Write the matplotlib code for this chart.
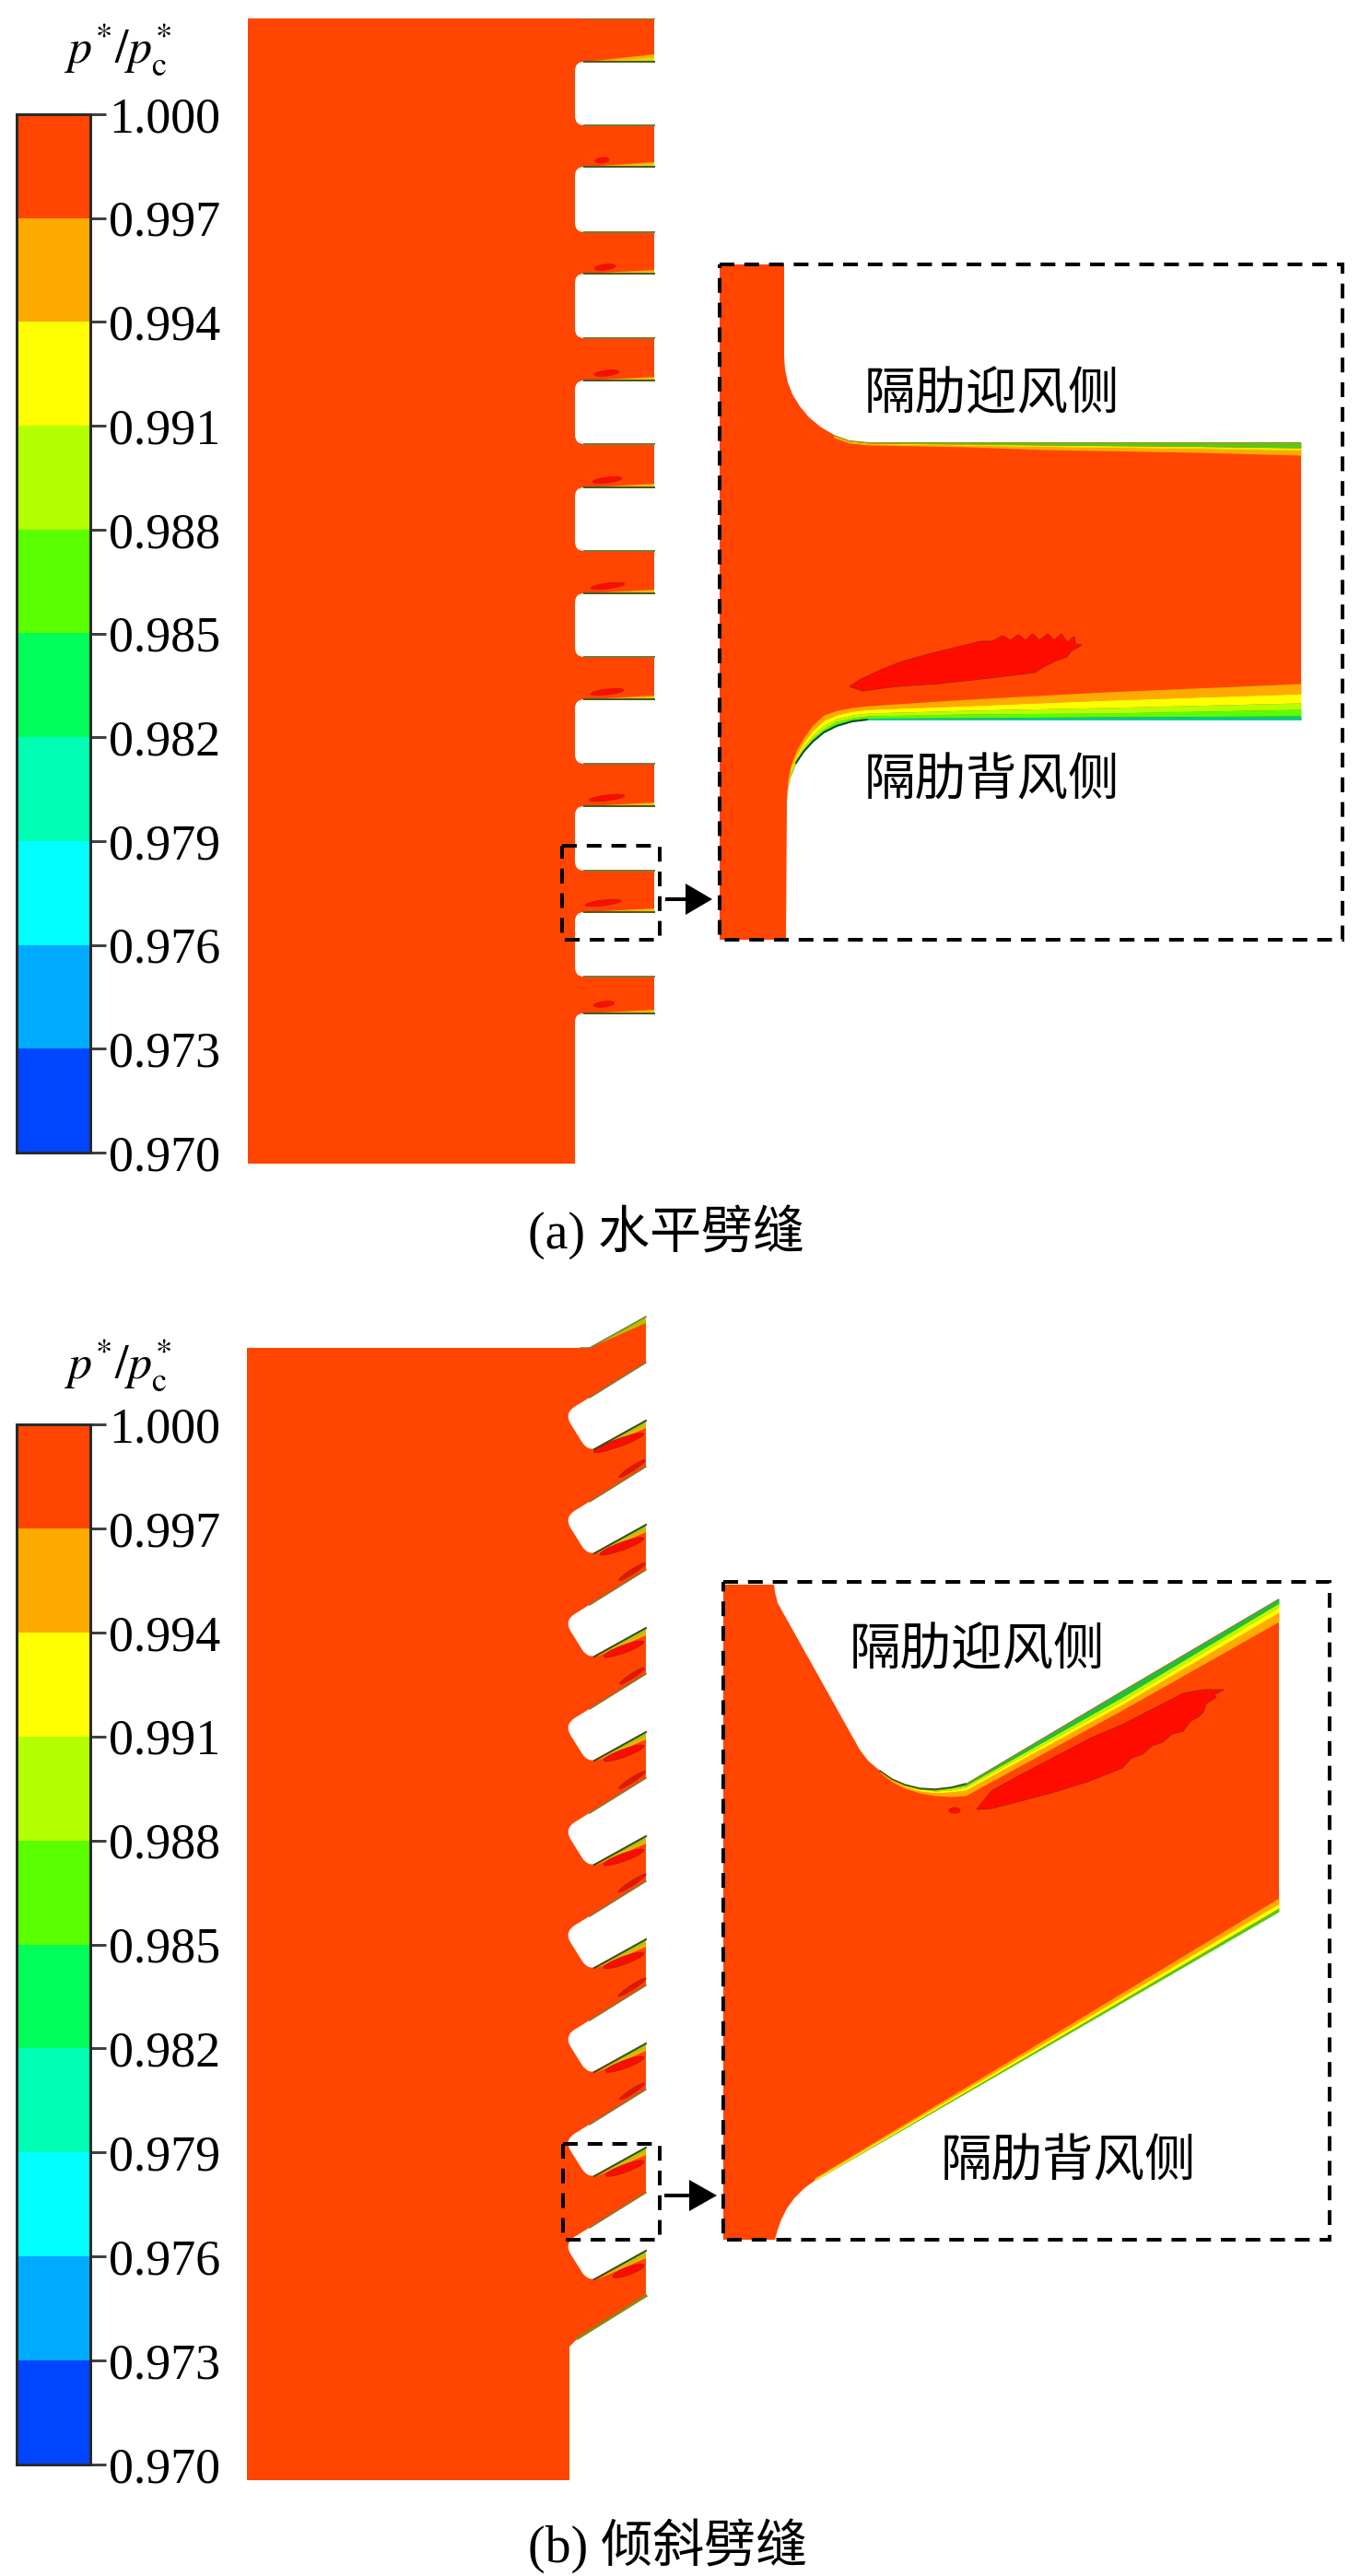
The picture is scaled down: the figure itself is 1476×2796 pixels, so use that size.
import matplotlib
matplotlib.use("Agg")
import matplotlib.pyplot as plt
from matplotlib.patches import Ellipse, PathPatch, Polygon, Rectangle
from matplotlib.path import Path

W, H = 1476, 2796
DPI = 100
PT = 72 / DPI  # one pixel in points

plt.rcParams["mathtext.fontset"] = "stix"

ORANGE_RED = "#FF4500"
BLOB_RED = "#FF0C00"
BLOB_EDGE = "#C41A08"
WALL_DARK = "#7A7A38"

# colour bar
LEVELS = [1.000, 0.997, 0.994, 0.991, 0.988, 0.985, 0.982, 0.979, 0.976, 0.973, 0.970]
LEVEL_LABELS = ["1.000", "0.997", "0.994", "0.991", "0.988", "0.985",
                "0.982", "0.979", "0.976", "0.973", "0.970"]
BAND_COLORS = ["#FF4500", "#FFAA00", "#FFFF00", "#B4FF00", "#5AFF00",
               "#00FF5A", "#00FFB4", "#00FFFF", "#00AAFF", "#0046FF"]

# (a) horizontal slots, pixel rows
A_SLOT_TOP = [67, 181, 297, 413, 529, 644, 759, 875, 990]
A_SLOT_BOTTOM = [136, 252, 367, 482, 598, 713, 829, 945, 1060]
A_FIN_WEDGE = [8, 5, 4, 4, 4, 4, 4, 4, 4, 4]
A_LAST_FIN_BOTTOM = 1100
A_BLOB_X0 = [646, 645, 645, 643, 641, 641, 639, 635, 644]
A_BLOB_X1 = [661, 668, 672, 675, 678, 677, 678, 674, 667]
A_BLOB_Y = [174, 290, 405, 521, 636, 751, 866, 980, 1090]

# (a) enlarged view
A_INSET_TOP_X = [851, 851, 852, 855, 860, 868, 878, 890, 905, 922, 943, 1412]
A_INSET_TOP_Y = [287, 388, 401, 415, 428, 441, 453, 463, 472, 478, 480, 480]
A_LEE_X = [854, 855, 858, 864, 872, 882, 894, 908, 925, 942, 1050, 1200, 1412]
A_LEE_WALL = [869, 856, 843, 828, 816, 805, 795, 788, 783, 781, 781, 781, 781]
A_LEE_GREEN = [869, 855, 842, 827, 815, 803, 793, 786, 781, 779.5, 779, 778, 777]
A_LEE_LIME = [868, 854, 841, 826, 813, 801, 791, 783, 779, 777, 775, 774, 770]
A_LEE_YELLOW = [867, 852, 838, 823, 810, 798, 787, 780, 776, 774, 771, 768, 763]
A_LEE_ORANGE = [866, 850, 835, 820, 806, 793, 782, 776, 772, 770, 766, 760, 753]
A_LEE_RED = [865, 846, 831, 815, 801, 787, 776, 771, 768, 766, 759, 751, 742]
A_LEE_BANDS = [
    (A_LEE_RED, A_LEE_ORANGE, "#FFAA00"),
    (A_LEE_ORANGE, A_LEE_YELLOW, "#FFFF00"),
    (A_LEE_YELLOW, A_LEE_LIME, "#B4FF00"),
    (A_LEE_LIME, A_LEE_GREEN, "#5AFF00"),
    (A_LEE_GREEN, A_LEE_WALL, "#00D070"),
]
A_WIND_X = [905, 922, 943, 1050, 1134, 1300, 1412]
A_WIND_WALL = [472, 478, 480, 480, 480, 480, 480]
A_WIND_GREEN = [473, 479, 481, 482, 483, 484.5, 486]
A_WIND_YELLOW = [474, 480, 482, 483.5, 485, 487, 489]
A_WIND_RED = [475, 481, 483, 485, 488, 491, 494]
A_WIND_BANDS = [
    (A_WIND_RED, A_WIND_YELLOW, "#FFAA00"),
    (A_WIND_YELLOW, A_WIND_GREEN, "#E8E800"),
    (A_WIND_GREEN, A_WIND_WALL, "#58C818"),
]
A_BIG_BLOB = [(922, 745), (933, 738), (956, 727), (979, 718), (1008, 710), (1036, 703), (1065, 696),
              (1077, 696), (1088, 690), (1097, 695), (1105, 689), (1113, 695), (1121, 688), (1128, 695),
              (1137, 688), (1144, 695), (1152, 688), (1158, 697), (1166, 691), (1167, 699), (1174, 700),
              (1162, 707), (1158, 713), (1146, 717), (1134, 723), (1123, 730), (1065, 737), (1019, 742),
              (973, 745), (936, 750)]

# (b) inclined slots
B_SLOT_TOP = [1479, 1592, 1704, 1817, 1930, 2042, 2155, 2268, 2380]
B_LOWER_BLOB_LEN = [57, 50, 46, 46, 46, 46, 44, 44, 36]
B_UPPER_BLOB_LEN = [0, 34, 34, 32, 34, 36, 36, 32, 0]

# (b) enlarged view
B_INSET_OUTLINE = [(785, 1720), (840, 1720), (841, 1728), (844, 1740), (933, 1899), (942, 1911),
                   (955, 1922), (968, 1931), (982, 1937), (998, 1941), (1015, 1942), (1032, 1940),
                   (1048, 1936), (1218, 1835), (1388, 1735), (1388, 2075), (884, 2367), (873, 2375),
                   (862, 2386), (854, 2397), (848, 2409), (844, 2420), (841, 2431), (785, 2431)]
B_WIND_X = [955, 968, 982, 998, 1015, 1032, 1048, 1218, 1388]
B_WIND_WALL = [1922, 1931, 1937, 1941, 1942, 1940, 1936, 1835, 1735]
B_WIND_GREEN = [1922, 1931, 1938, 1942, 1943, 1941, 1938, 1842, 1740]
B_WIND_LIME = [1923, 1932, 1938, 1942, 1944, 1943, 1940, 1846, 1744]
B_WIND_YELLOW = [1923, 1932, 1939, 1944, 1946, 1945, 1943, 1850, 1750]
B_WIND_RED = [1924, 1934, 1941, 1946, 1949, 1950, 1949, 1856, 1760]
B_WIND_BANDS = [
    (B_WIND_RED, B_WIND_YELLOW, "#FFAA00"),
    (B_WIND_YELLOW, B_WIND_LIME, "#FFFF00"),
    (B_WIND_LIME, B_WIND_GREEN, "#B4FF00"),
    (B_WIND_GREEN, B_WIND_WALL, "#1FBF3F"),
]
B_LEE_X = [884, 1100, 1388]
B_LEE_BANDS = [
    ([2364, 2234, 2060], [2365, 2237, 2066], "#FFAA00"),
    ([2365, 2237, 2066], [2366.5, 2240, 2071], "#FFFF00"),
    ([2366.5, 2240, 2071], [2367, 2242, 2075], "#58C818"),
]
B_BIG_BLOB = [(1060, 1964), (1076, 1944), (1103, 1929), (1141, 1909), (1185, 1886), (1218, 1872),
              (1257, 1852), (1284, 1838), (1306, 1834), (1328, 1834), (1317, 1840), (1320, 1842),
              (1309, 1849), (1306, 1858), (1300, 1864), (1292, 1868), (1284, 1879), (1272, 1882),
              (1262, 1891), (1250, 1895), (1240, 1904), (1228, 1908), (1218, 1919), (1180, 1934),
              (1141, 1946), (1103, 1956), (1076, 1963)]


def round_path(points, radii):
    """Closed path with the corners rounded by the given pixel radius."""
    verts, codes = [], []
    n = len(points)
    for i in range(n):
        px, py = points[i]
        r = radii[i]
        if r == 0:
            verts.append((px, py))
            codes.append(Path.LINETO)
            continue
        ax_, ay_ = points[i - 1]
        bx, by = points[(i + 1) % n]
        la = ((ax_ - px) ** 2 + (ay_ - py) ** 2) ** 0.5
        lb = ((bx - px) ** 2 + (by - py) ** 2) ** 0.5
        verts.append((px + (ax_ - px) * r / la, py + (ay_ - py) * r / la))
        codes.append(Path.LINETO)
        verts.append((px, py))
        codes.append(Path.CURVE3)
        verts.append((px + (bx - px) * r / lb, py + (by - py) * r / lb))
        codes.append(Path.CURVE3)
    codes[0] = Path.MOVETO
    verts.append(verts[0])
    codes.append(Path.CLOSEPOLY)
    return Path(verts, codes)


def colorbar(fig, top, bottom):
    ax = fig.add_axes([18 / W, 1 - bottom / H, 79.5 / W, (bottom - top) / H])
    for i, color in enumerate(BAND_COLORS):
        ax.bar(0, LEVELS[i] - LEVELS[i + 1], bottom=LEVELS[i + 1], width=1, color=color, linewidth=0)
    ax.set_xlim(-0.5, 0.5)
    ax.set_ylim(LEVELS[-1], LEVELS[0])
    ax.set_xticks([])
    ax.yaxis.tick_right()
    ax.set_yticks(LEVELS)
    ax.set_yticklabels(LEVEL_LABELS, fontsize=54 * PT, family="Liberation Serif")
    ax.tick_params(axis="y", length=17 * PT, width=3 * PT, color="#404040", pad=4 * PT)
    for s in ax.spines.values():
        s.set_linewidth(3 * PT)
        s.set_color("#2A2A2A")


def dashed_box(ax, x0, y0, x1, y1):
    ax.add_patch(Rectangle((x0, y0), x1 - x0, y1 - y0, fill=False, edgecolor="black",
                           linewidth=4 * PT, linestyle=(0, (4, 2.7)), zorder=8))


def arrow(ax, x0, x1, x2, y):
    ax.plot([x0, x1], [y, y], color="black", lw=4 * PT, zorder=8, solid_capstyle="butt")
    ax.add_patch(Polygon([(x1, y - 17), (x2, y), (x1, y + 17)], color="black", lw=0, zorder=8))


def header(ax, y):
    ax.text(128, y, r"$p^{*}/p_{\mathrm{c}}^{*}$", fontsize=52 * PT, ha="center", va="baseline")


def cjk_label(ax, x, y, s):
    ax.text(x, y, s, fontsize=55.5 * PT, ha="center", va="center",
            family=["Noto Sans CJK SC", "DejaVu Sans"], zorder=9)


def caption(ax, x, y, s):
    ax.text(x, y, s, fontsize=56 * PT, ha="left", va="center",
            family=["Liberation Serif", "Noto Sans CJK SC"], zorder=9)


fig = plt.figure(figsize=(W / DPI, H / DPI), dpi=DPI, facecolor="white")
ax = fig.add_axes([0, 0, 1, 1])
ax.set_xlim(0, W)
ax.set_ylim(H, 0)
ax.axis("off")

# ---- (a) main blade
body_a = [(269, 20), (710, 20), (710, A_LAST_FIN_BOTTOM), (624, A_LAST_FIN_BOTTOM), (624, 1263), (269, 1263)]
ax.add_patch(PathPatch(round_path(body_a, [0, 0, 0, 9, 0, 0]), facecolor=ORANGE_RED, edgecolor="none"))

for i, t in enumerate(A_FIN_WEDGE):
    y = A_SLOT_TOP[i] if i < len(A_SLOT_TOP) else A_LAST_FIN_BOTTOM
    ax.add_patch(Polygon([(636, y), (710, y), (710, y - t)], color="#FFAA00", lw=0))
    ax.add_patch(Polygon([(655, y), (710, y), (710, y - t * 0.6)], color="#D8E000", lw=0))
    ax.plot([634, 710], [y, y], color="#4A5A20", lw=2 * PT)

for y0, y1 in zip(A_SLOT_TOP, A_SLOT_BOTTOM):
    slot = [(716, y0), (624, y0), (624, y1), (716, y1)]
    ax.add_patch(PathPatch(round_path(slot, [0, 10, 10, 0]), facecolor="white", edgecolor="none"))
    ax.plot([634, 710], [y1, y1], color=WALL_DARK, lw=2 * PT)
ax.plot([630, 710], [20, 20], color=WALL_DARK, lw=1 * PT)

for x0, x1, y in zip(A_BLOB_X0, A_BLOB_X1, A_BLOB_Y):
    ax.add_patch(Ellipse(((x0 + x1) / 2, y), x1 - x0, 6, angle=-7, facecolor=BLOB_RED,
                         edgecolor=BLOB_EDGE, lw=0.5))

# ---- (a) enlarged view
inset_a = list(zip(A_INSET_TOP_X, A_INSET_TOP_Y)) + list(zip(A_LEE_X[::-1], A_LEE_WALL[::-1])) + [(853, 1020), (781, 1020), (781, 287)]
ax.add_patch(Polygon(inset_a, closed=True, facecolor=ORANGE_RED, edgecolor="none"))
for y1, y2, color in A_LEE_BANDS:
    ax.fill_between(A_LEE_X, y1, y2, color=color, lw=0)
ax.plot(A_LEE_X[3:10], A_LEE_WALL[3:10], color="#0A4A30", lw=2 * PT)
ax.plot(A_LEE_X[9:], A_LEE_WALL[9:], color="#00C8A0", lw=1.5 * PT)
for y1, y2, color in A_WIND_BANDS:
    ax.fill_between(A_WIND_X, y1, y2, color=color, lw=0)
ax.add_patch(Polygon(A_BIG_BLOB, closed=True, facecolor=BLOB_RED, edgecolor=BLOB_EDGE, lw=1 * PT))

dashed_box(ax, 781, 287, 1457, 1020)
dashed_box(ax, 610, 918, 716, 1020)
arrow(ax, 722, 744, 773, 976)
cjk_label(ax, 1076, 428, "隔肋迎风侧")
cjk_label(ax, 1076, 848, "隔肋背风侧")
header(ax, 68)
caption(ax, 573, 1337, "(a) 水平劈缝")

# ---- (b) main blade
body_b = [(268, 1463), (640, 1463), (701, 1429), (701, 2492), (627, 2538), (618, 2547), (618, 2692), (268, 2692)]
ax.add_patch(Polygon(body_b, closed=True, facecolor=ORANGE_RED, edgecolor="none"))
ax.add_patch(Polygon([(640, 1463), (701, 1429), (701, 1436)], color="#B4C000", lw=0))
ax.plot([630, 640, 701], [1463, 1463, 1429], color=WALL_DARK, lw=1.5 * PT)
ax.plot([627, 701], [2538, 2492], color="#8A8A10", lw=3 * PT)

for t, lo, up in zip(B_SLOT_TOP, B_LOWER_BLOB_LEN, B_UPPER_BLOB_LEN):
    ax.add_patch(Polygon([(646, t + 95), (701, t + 63), (701, t + 71)], color="#FFAA00", lw=0))
    ax.add_patch(Polygon([(655, t + 90), (701, t + 63), (701, t + 68)], color="#A8C810", lw=0))
    slot = [(705, t - 2.5), (612, t + 55), (639, t + 98), (705, t + 60.7)]
    ax.add_patch(PathPatch(round_path(slot, [0, 14, 14, 0]), facecolor="white", edgecolor="none"))
    ax.plot([645, 701], [t + 94, t + 63], color="#3C4A18", lw=2 * PT)
    ax.plot([640, 701], [t + 38, t], color=WALL_DARK, lw=1.5 * PT)
    ax.add_patch(Ellipse((701 - lo / 2 - 1, t + 87 - (57 - lo) * 0.1), lo, 8, angle=-20,
                         facecolor=BLOB_RED, edgecolor=BLOB_EDGE, lw=0.8))
    if up:
        ax.add_patch(Ellipse((686, t + 2), up, 5, angle=-33, facecolor="#E01800",
                             edgecolor=BLOB_EDGE, lw=0.5))

# ---- (b) enlarged view
ax.add_patch(Polygon(B_INSET_OUTLINE, closed=True, facecolor=ORANGE_RED, edgecolor="none"))
for y1, y2, color in B_WIND_BANDS:
    ax.fill_between(B_WIND_X, y1, y2, color=color, lw=0)
ax.plot(B_WIND_X[:7], B_WIND_WALL[:7], color="#3C4A18", lw=1.5 * PT)
for y1, y2, color in B_LEE_BANDS:
    ax.fill_between(B_LEE_X, y1, y2, color=color, lw=0)
ax.add_patch(Polygon(B_BIG_BLOB, closed=True, facecolor=BLOB_RED, edgecolor=BLOB_EDGE, lw=1 * PT))
ax.add_patch(Ellipse((1036, 1965), 12, 6, facecolor=BLOB_RED, edgecolor=BLOB_EDGE, lw=0.6))

dashed_box(ax, 785, 1717, 1443, 2431)
dashed_box(ax, 611, 2327, 716, 2431)
arrow(ax, 721, 748, 778, 2383)
cjk_label(ax, 1060, 1791, "隔肋迎风侧")
cjk_label(ax, 1159, 2347, "隔肋背风侧")
header(ax, 1496)
caption(ax, 573, 2763, "(b) 倾斜劈缝")

colorbar(fig, 124, 1251)
colorbar(fig, 1546, 2675)

fig.savefig("out.png", dpi=DPI, facecolor="white")
